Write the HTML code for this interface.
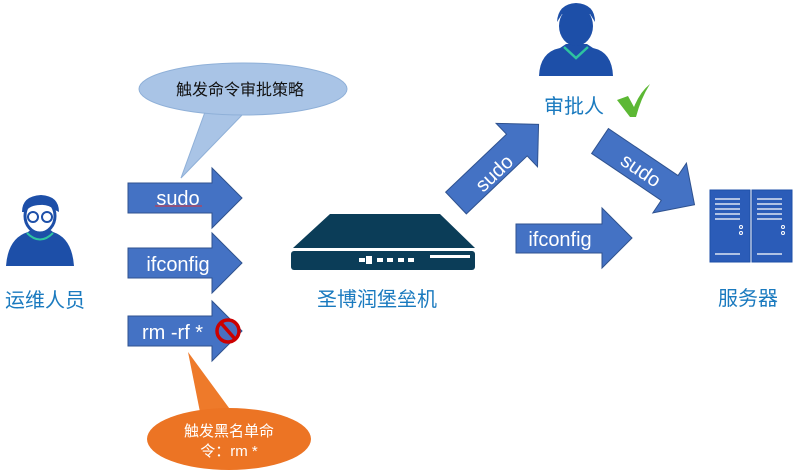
<!DOCTYPE html>
<html><head><meta charset="utf-8"><style>
html,body{margin:0;padding:0;background:#fff;width:800px;height:476px;overflow:hidden}
svg{display:block}
text{font-family:"Liberation Sans","Noto Sans CJK SC",sans-serif}
</style></head><body>
<svg width="800" height="476" viewBox="0 0 800 476">
<defs>
<polygon id="arr" points="0,-15 84,-15 84,-30 114,0 84,30 84,15 0,15"/>
</defs>
<!-- blue bubble -->
<path d="M205,112 L181,178 L245,112 Z" fill="#a9c4e6" stroke="#8fb0d8"/>
<ellipse cx="243" cy="89" rx="104" ry="26" fill="#a9c4e6" stroke="#8fb0d8"/>
<path d="M206,110 L245,110" stroke="#a9c4e6" stroke-width="4"/>
<text x="240" y="95" font-size="16" text-anchor="middle" fill="#111">触发命令审批策略</text>
<!-- orange bubble -->
<path d="M188,352 L200,412 L232,412 Z" fill="#ee7a2a"/>
<ellipse cx="229" cy="439" rx="82" ry="31" fill="#ec7424"/>
<text x="229" y="436" font-size="15" text-anchor="middle" fill="#fff">触发黑名单命</text>
<text x="229" y="456" font-size="15" text-anchor="middle" fill="#fff">令：rm *</text>
<!-- arrows -->
<g fill="#4472c4" stroke="#2f528f" stroke-width="1">
<polygon points="128,183 212,183 212,168 242,198 212,228 212,213 128,213"/>
<polygon points="128,248 212,248 212,233 242,263 212,293 212,278 128,278"/>
<polygon points="128,316 212,316 212,301 242,331 212,361 212,346 128,346"/>
<polygon points="516,224 602,224 602,208 632,238 602,268 602,253 516,253"/>
<use href="#arr" transform="translate(456,203) rotate(-43.6)"/>
<use href="#arr" transform="translate(600,141) rotate(34)"/>
</g>
<g fill="#fff" font-size="20">
<text x="178" y="205" text-anchor="middle">sudo</text>
<text x="178" y="271" text-anchor="middle">ifconfig</text>
<text x="142" y="339">rm -rf *</text>
<text x="560" y="246" text-anchor="middle">ifconfig</text>
<text transform="translate(494,173) rotate(-43.6)" text-anchor="middle" dy="7">sudo</text>
<text transform="translate(641,170) rotate(34)" text-anchor="middle" dy="7">sudo</text>
</g>
<path d="M155,206 L202,206" stroke="#d33" stroke-width="1"/>
<!-- prohibit -->
<circle cx="228" cy="331" r="11" fill="#4a6fc0" stroke="#c00" stroke-width="3.5"/>
<path d="M221,323 L235,339" stroke="#c00" stroke-width="3.5"/>
<!-- left person -->
<path d="M6,266 Q8,238 28,232 L33,228 L48,228 L53,232 Q72,238 74,266 Z" fill="#1d4fa8"/>
<path d="M27,233 Q40,246 53,233" stroke="#2ec4a0" stroke-width="2" fill="none"/>
<ellipse cx="40" cy="216" rx="15" ry="17" fill="#fff" stroke="#1d4fa8" stroke-width="3"/>
<path d="M22,212 Q22,196 41,195 Q59,196 59,212 L55,210 Q48,204 40,205 Q30,205 25,212 Z" fill="#1d4fa8"/>
<circle cx="33" cy="217" r="5" fill="#fff" stroke="#1d4fa8" stroke-width="2"/>
<circle cx="47" cy="217" r="5" fill="#fff" stroke="#1d4fa8" stroke-width="2"/>
<text x="5" y="307" font-size="20" fill="#1a7abf">运维人员</text>
<!-- router -->
<path d="M293,248 L330,214 L440,214 L475,248 Z" fill="#0b3d58"/>
<rect x="291" y="251" width="184" height="19" rx="3" fill="#0b3d58"/>
<g fill="#fff"><rect x="359" y="258" width="6" height="4"/><rect x="366" y="256" width="6" height="8"/><rect x="377" y="258" width="6" height="4"/><rect x="387" y="258" width="6" height="4"/><rect x="398" y="258" width="6" height="4"/><rect x="408" y="258" width="6" height="4"/><rect x="430" y="255" width="40" height="3"/></g>
<text x="317" y="306" font-size="20" fill="#1a7abf">圣博润堡垒机</text>
<!-- approver -->
<g fill="#1d4fa8">
<path d="M539,76 Q540,52 560,48 L566,44 L587,44 L593,48 Q612,52 613,76 Z"/>
<ellipse cx="576" cy="26" rx="17" ry="20"/>
<path d="M557,22 Q558,4 576,3 Q595,4 595,22 L590,14 L562,14 Z"/>
</g>
<path d="M564,47 L576,58 L588,47" stroke="#2ec4a0" stroke-width="2.5" fill="none"/>
<text x="544" y="113" font-size="20" fill="#1a7abf">审批人</text>
<path d="M617,100 L628,96 L634,107 Q640,92 650,84 Q641,98 636,117 L630,117 Z" fill="#5cb834"/>
<!-- server -->
<g fill="#2b5cb8" stroke="#1d4fa8">
<rect x="710" y="190" width="40" height="72"/><rect x="752" y="190" width="40" height="72"/>
</g>
<g stroke="#fff" stroke-width="1.2">
<path d="M715,199H740M715,204H740M715,209H740M715,214H740M715,219H740M757,199H782M757,204H782M757,209H782M757,214H782M757,219H782M715,254H740M757,254H782"/>
</g>
<circle cx="741" cy="227" r="1.5" fill="none" stroke="#fff"/><circle cx="741" cy="233" r="1.5" fill="none" stroke="#fff"/>
<circle cx="783" cy="227" r="1.5" fill="none" stroke="#fff"/><circle cx="783" cy="233" r="1.5" fill="none" stroke="#fff"/>
<text x="718" y="305" font-size="20" fill="#1a7abf">服务器</text>
</svg>
</body></html>
